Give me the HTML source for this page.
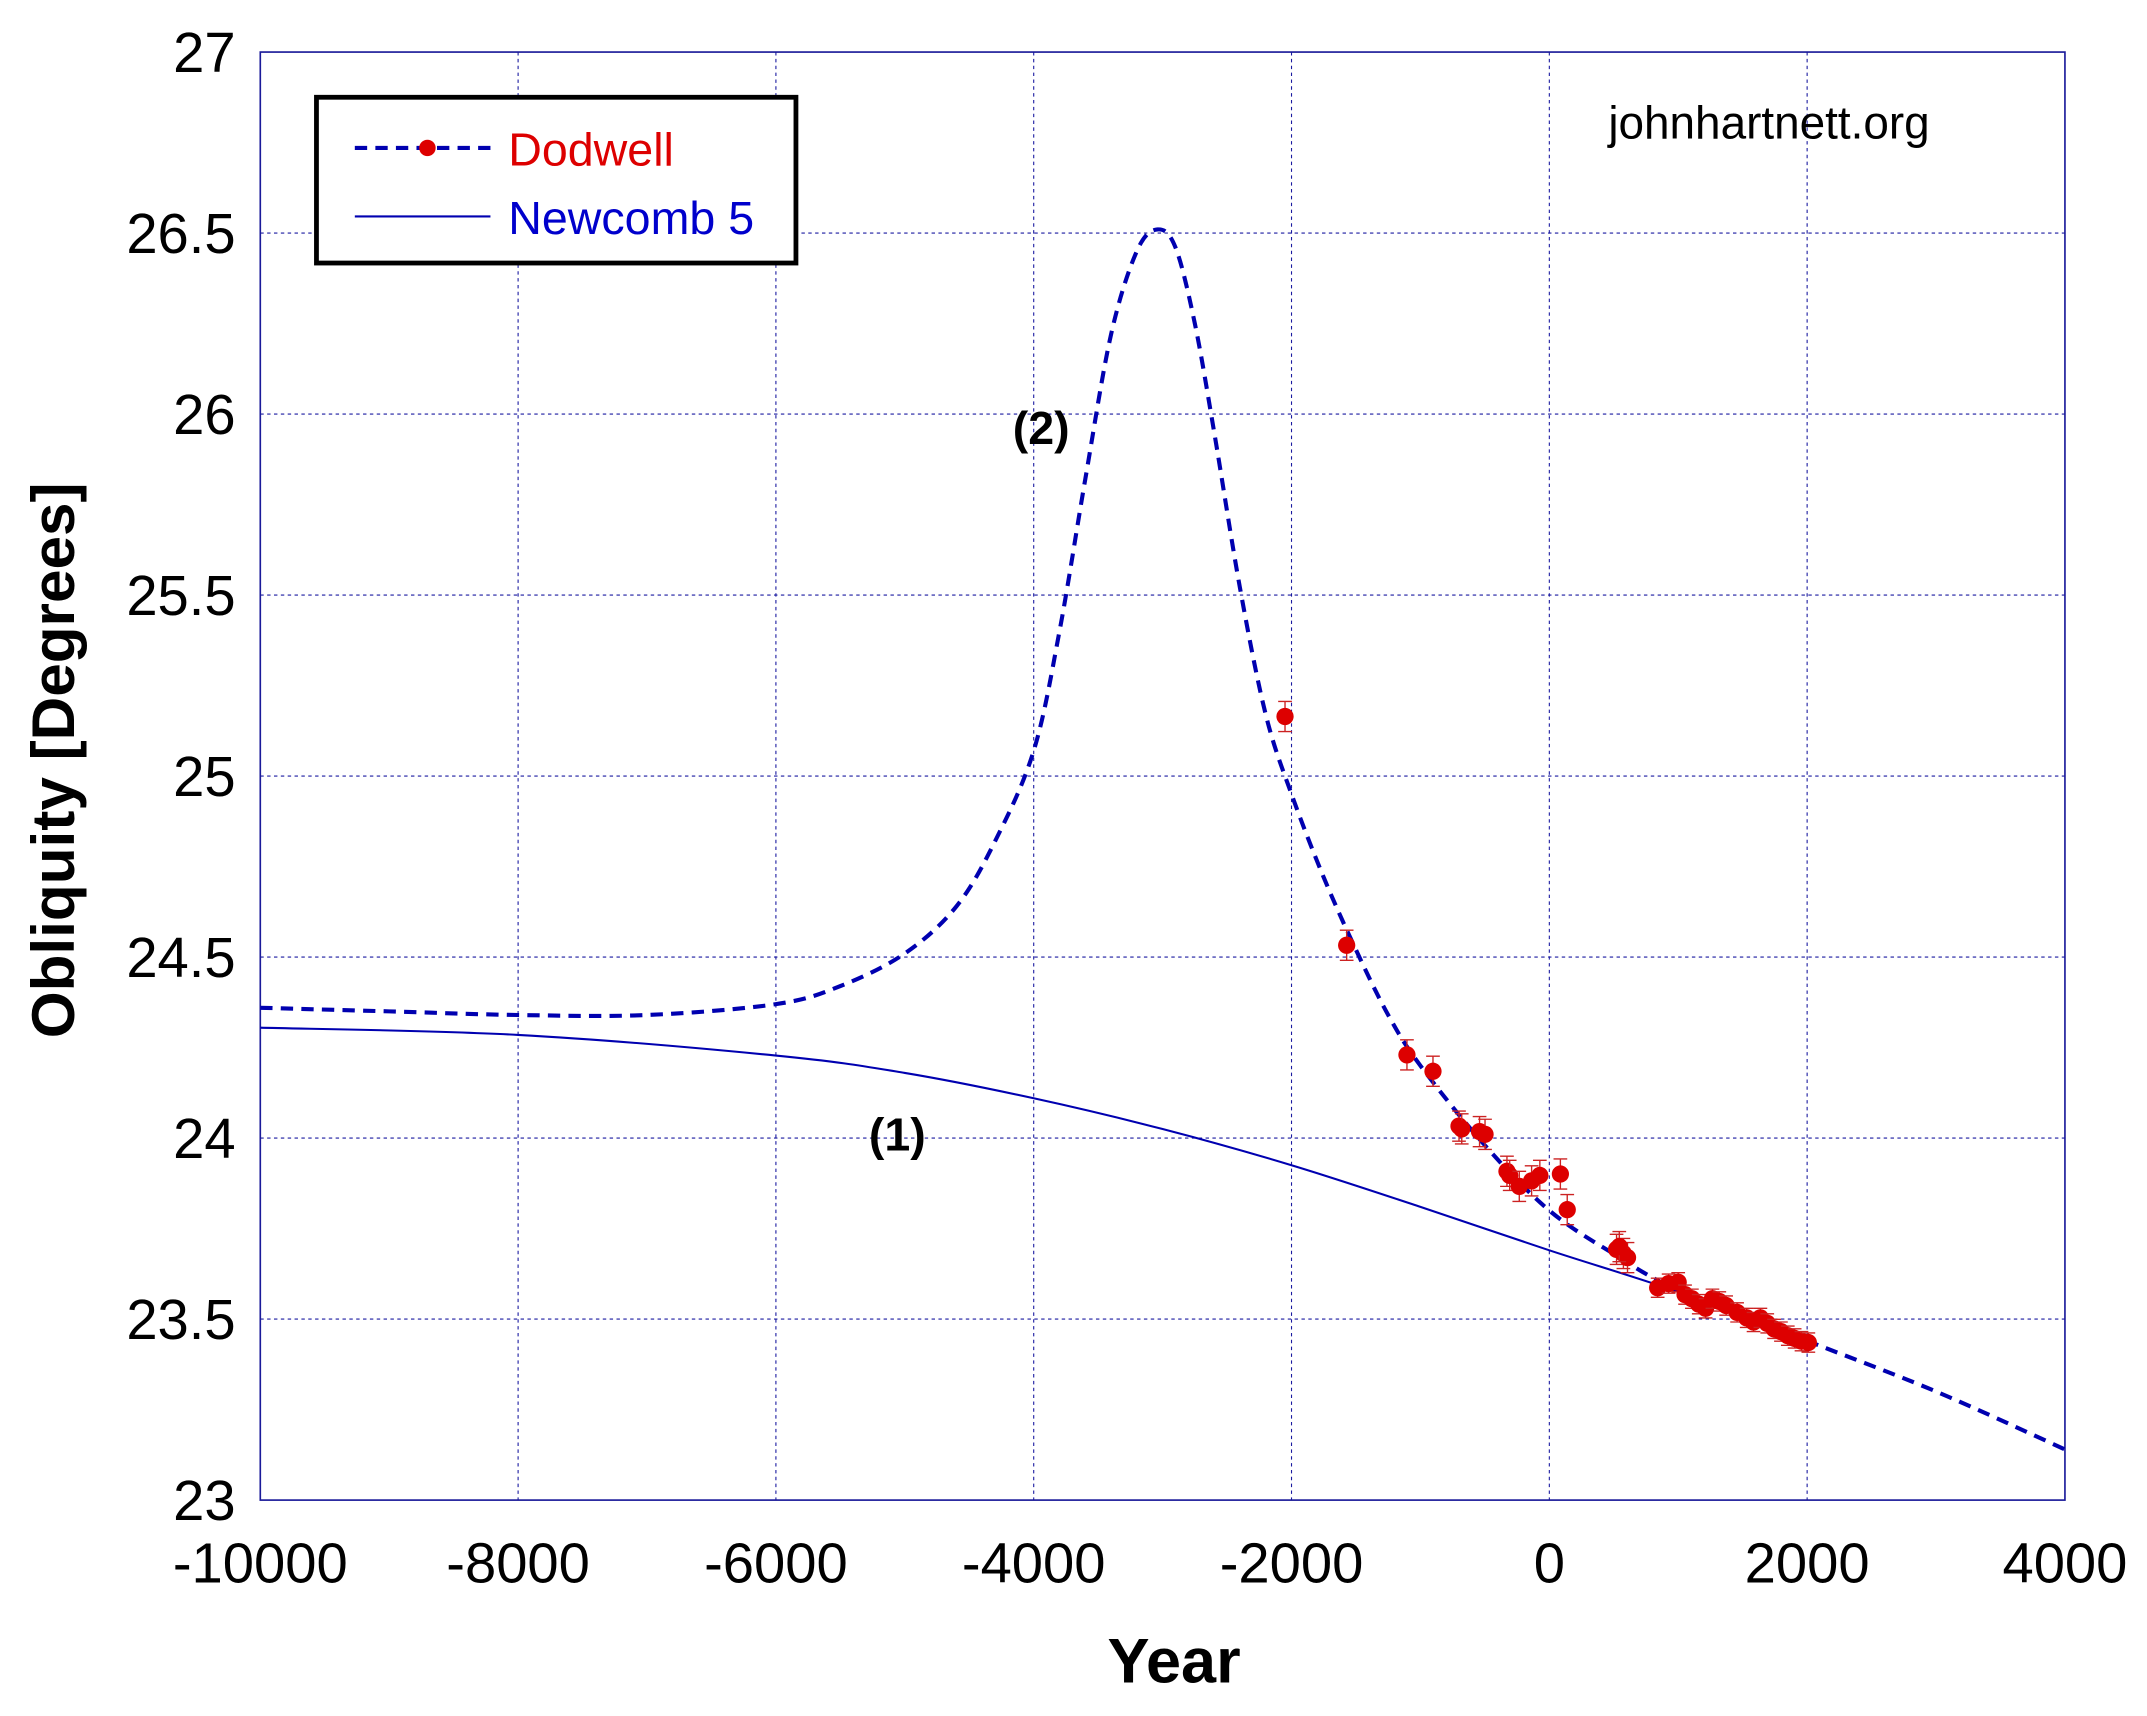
<!DOCTYPE html>
<html><head><meta charset="utf-8"><style>
html,body{margin:0;padding:0;background:#fff}
svg{display:block}
text{font-family:"Liberation Sans",Arial,sans-serif}
</style></head><body>
<svg id="s" width="2147" height="1716" viewBox="0 0 1567.2 1252.6" preserveAspectRatio="none" xmlns="http://www.w3.org/2000/svg">
<rect width="1567.2" height="1252.6" fill="#fff"/>
<g id="grid" stroke="#1a1aa0" stroke-width="0.8" stroke-dasharray="2.5 2.5" fill="none"></g>
<rect x="190" y="38" width="1317.3" height="1057" fill="none" stroke="#1a1a99" stroke-width="1.2"/>
<g id="ticks" font-size="41" fill="#000"></g>
<path id="c1" fill="none" stroke="#0000b0" stroke-width="1.5"/>
<path id="c2" fill="none" stroke="#0000b0" stroke-width="3" stroke-dasharray="9 6"/>
<g id="pts"></g>
<rect x="231" y="71" width="350" height="121" fill="#fff" stroke="#000" stroke-width="3.5"/>
<line x1="259" y1="108" x2="358" y2="108" stroke="#0000b0" stroke-width="3" stroke-dasharray="9 6"/>
<circle cx="312" cy="108" r="6" fill="#dd0000"/>
<text x="371" y="121" font-size="34" fill="#dd0000">Dodwell</text>
<line x1="259" y1="158" x2="358" y2="158" stroke="#0000b0" stroke-width="1.5"/>
<text x="371" y="171" font-size="34" fill="#0000cc">Newcomb 5</text>
<text x="1174" y="101" font-size="33.5" fill="#000">johnhartnett.org</text>
<text x="760" y="324" font-size="34" font-weight="bold" text-anchor="middle">(2)</text>
<text x="655" y="840" font-size="34" font-weight="bold" text-anchor="middle">(1)</text>
<text x="857" y="1228" font-size="46" font-weight="bold" text-anchor="middle">Year</text>
<text transform="translate(54,555) rotate(-90)" font-size="44" font-weight="bold" text-anchor="middle">Obliquity [Degrees]</text>
</svg>
<script>
var NS="http://www.w3.org/2000/svg";
function xs(y){return 190+(y+10000)*1317.3/14000;}
function ys(v){return 38+(27-v)*264.25;}
function el(t,a,p,txt){var e=document.createElementNS(NS,t);for(var k in a)e.setAttribute(k,a[k]);if(txt!==undefined)e.textContent=txt;document.getElementById(p).appendChild(e);return e;}
[-8000,-6000,-4000,-2000,0,2000].forEach(function(y){var x=xs(y);el('line',{x1:x,y1:38,x2:x,y2:1095},'grid');});
[26.5,26,25.5,25,24.5,24,23.5].forEach(function(v){var y=ys(v);el('line',{x1:190,y1:y,x2:1507.3,y2:y},'grid');});
[27,26.5,26,25.5,25,24.5,24,23.5,23].forEach(function(v){el('text',{x:172,y:ys(v)+14.5,'text-anchor':'end'},'ticks',String(v));});
[-10000,-8000,-6000,-4000,-2000,0,2000,4000].forEach(function(y){el('text',{x:xs(y),y:1155,'text-anchor':'middle'},'ticks',String(y));});
function cr(pts){var p=pts.map(function(a){return [xs(a[0]),ys(a[1])];});var d="M"+p[0][0]+","+p[0][1];
for(var i=0;i<p.length-1;i++){var p0=p[Math.max(i-1,0)],p1=p[i],p2=p[i+1],p3=p[Math.min(i+2,p.length-1)];
d+=" C"+(p1[0]+(p2[0]-p0[0])/6)+","+(p1[1]+(p2[1]-p0[1])/6)+" "+(p2[0]-(p3[0]-p1[0])/6)+","+(p2[1]-(p3[1]-p1[1])/6)+" "+p2[0]+","+p2[1];}return d;}
document.getElementById('c1').setAttribute('d',cr([[-10000,24.305],[-8000,24.285],[-6000,24.228],[-5000,24.18],[-4000,24.11],[-3000,24.025],[-2000,23.925],[-1000,23.81],[0,23.69],[1000,23.575],[2000,23.44]]));
document.getElementById('c2').setAttribute('d',cr([[-10000,24.36],[-9000,24.35],[-8000,24.34],[-7000,24.34],[-6000,24.37],[-5500,24.42],[-5000,24.51],[-4600,24.64],[-4300,24.82],[-4000,25.07],[-3800,25.4],[-3600,25.82],[-3400,26.22],[-3200,26.45],[-3040,26.51],[-2900,26.46],[-2750,26.25],[-2600,25.95],[-2400,25.52],[-2200,25.17],[-2000,24.95],[-1750,24.72],[-1500,24.52],[-1250,24.34],[-1000,24.2],[-500,23.98],[0,23.8],[500,23.68],[1000,23.58],[2000,23.44],[3000,23.3],[4000,23.14]]));
var P=[[938,523],[983,690],[1027,770],[1046,782],[1065,822],[1067,824],[1080,826],[1084,828],[1100,855],[1102,858],[1109,866],[1118,862],[1124,858],[1139,857],[1144,883],[1180,912],[1185,915],[1188,918],[1182,910],[1210,940],[1218,937],[1225,936],[1230,945],[1235,948],[1240,952],[1245,955],[1250,948],[1255,950],[1260,953],[1268,958],[1275,962],[1280,965],[1285,962],[1290,966],[1295,970],[1300,972],[1305,975],[1310,977],[1315,979],[1320,980]];
P.forEach(function(p,i){var e=p[0]<1200?11:7;
el('path',{d:"M"+p[0]+","+(p[1]-e)+"V"+(p[1]+e)+"M"+(p[0]-5)+","+(p[1]-e)+"h10M"+(p[0]-5)+","+(p[1]+e)+"h10",stroke:"#cc2222","stroke-width":1,fill:"none"},'pts');
el('circle',{cx:p[0],cy:p[1],r:6.3,fill:"#dd0000"},'pts');});
</script>
</body></html>
